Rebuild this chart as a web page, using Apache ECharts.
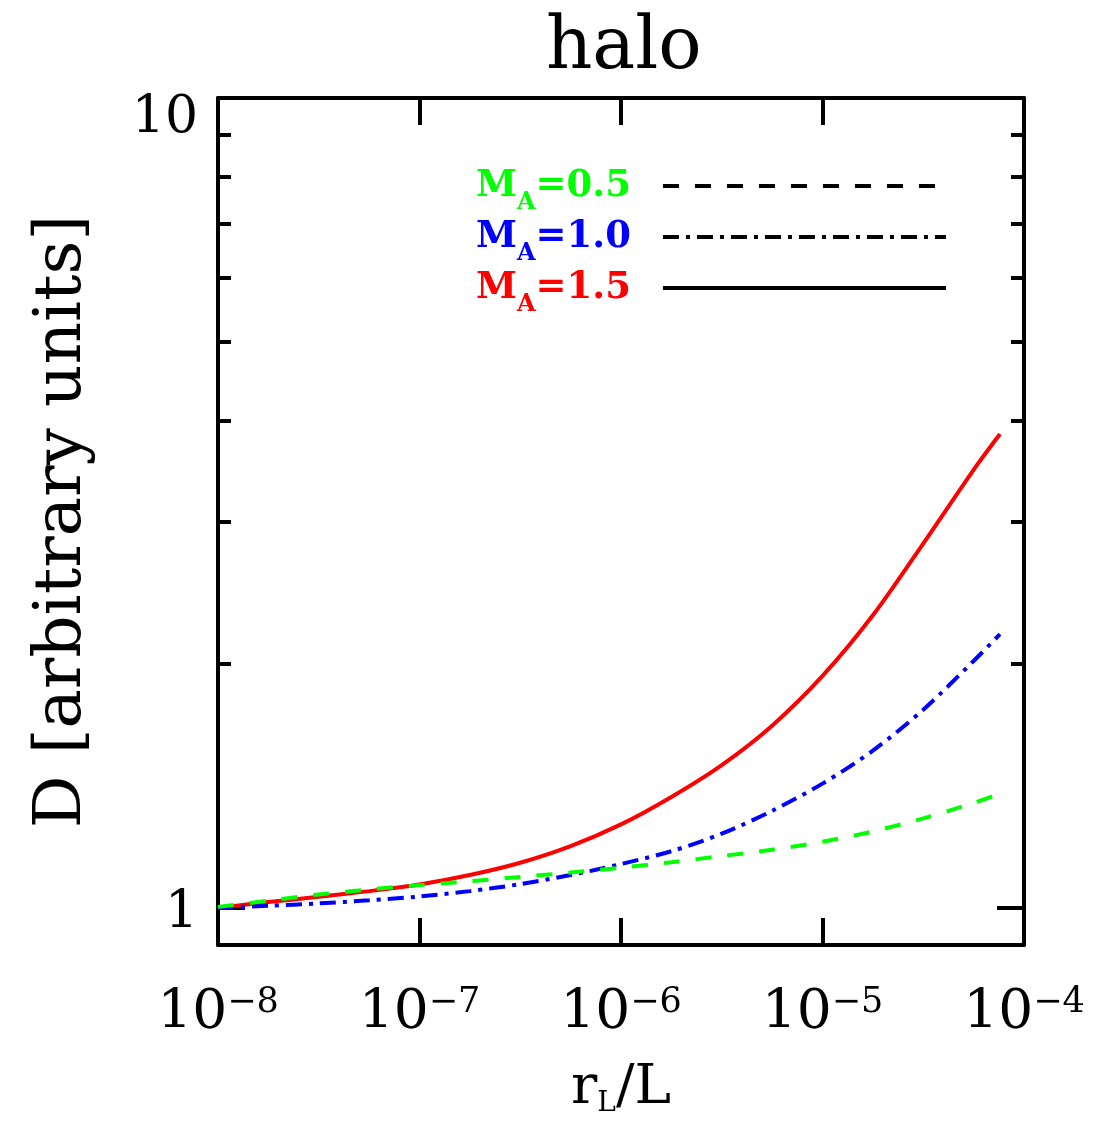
<!DOCTYPE html>
<html><head><meta charset="utf-8">
<script src="https://cdn.jsdelivr.net/npm/echarts@6/dist/echarts.min.js"></script>
<style>html,body{margin:0;padding:0;background:#fff}#c{width:1109px;height:1123px}</style>
</head><body><div id="c"></div>
<script>
// ---- data ----
const rL = [1e-8, 1.778e-8, 3.162e-8, 5.623e-8, 1e-7, 1.778e-7, 3.162e-7, 5.623e-7, 1e-6, 1.778e-6, 3.162e-6, 5.623e-6, 1e-5, 1.778e-5, 3.162e-5, 5.623e-5, 7.6e-5];
const dMA05 = [1.003, 1.021, 1.039, 1.054, 1.067, 1.079, 1.092, 1.106, 1.121, 1.139, 1.159, 1.180, 1.207, 1.243, 1.290, 1.348, 1.385];
const dMA10 = [1.000, 1.006, 1.013, 1.022, 1.033, 1.049, 1.070, 1.098, 1.133, 1.175, 1.235, 1.318, 1.424, 1.564, 1.757, 2.018, 2.178];
const dMA15 = [1.000, 1.017, 1.032, 1.049, 1.069, 1.098, 1.137, 1.192, 1.268, 1.371, 1.501, 1.679, 1.934, 2.298, 2.818, 3.475, 3.847];
const seriesNames = ['MA=0.5', 'MA=1.0', 'MA=1.5'];
const seriesColors = ['#00ff00', '#0000ff', '#ff0000'];
const yMajorTicks = [1, 10];
const yMinorTicks = [2, 3, 4, 5, 6, 7, 8, 9];
const titleText = 'halo';
const yName = 'D [arbitrary units]';

const SERIF = 'DejaVu Serif';
const dashes = [[16, 16], [16, 7, 4, 7], 'solid'];
const allData = [dMA05, dMA10, dMA15];

const chart = echarts.init(document.getElementById('c'), null, {renderer: 'canvas'});

const axisLineStyle = {color: '#000', width: 4};
const xAxisBase = {
  type: 'log', logBase: 10, min: 1e-8, max: 1e-4,
  splitLine: {show: false}, minorTick: {show: false},
  axisLine: {show: true, lineStyle: axisLineStyle, onZero: false},
  axisTick: {show: true, inside: true, length: 27, lineStyle: {color: '#000', width: 4}}
};
const yAxisBase = {
  type: 'log', logBase: 10, min: 0.9, max: 10,
  splitLine: {show: false}, minorTick: {show: false}
};

const option = {
  animation: false,
  backgroundColor: '#fff',
  title: {
    text: titleText, left: 541, top: 8,
    textStyle: {fontFamily: SERIF, fontSize: 72, fontWeight: 'normal', color: '#000'}
  },
  grid: {left: 218, right: 85, top: 98, bottom: 175, containLabel: false},
  legend: {
    orient: 'vertical', left: 471, top: 152, itemGap: -7,
    itemWidth: 283, itemHeight: 12, align: 'right',
    selectedMode: false,
    data: seriesNames.map((n, i) => ({
      name: n,
      textStyle: {color: seriesColors[i]},
      itemStyle: {opacity: 0},
      lineStyle: {color: '#000', width: 4, type: dashes[i], opacity: 1}
    })),
    formatter: name => '{m|M}{s|A}{m|=' + name.split('=')[1] + '}{g|}',
    textStyle: {
      fontFamily: SERIF, fontWeight: 'bold', fontSize: 37,
      rich: {
        m: {fontFamily: SERIF, fontWeight: 'bold', fontSize: 37, lineHeight: 44},
        s: {fontFamily: SERIF, fontWeight: 'bold', fontSize: 24, lineHeight: 22, padding: [34, 0, 0, 0]},
        g: {width: 27}
      }
    }
  },
  xAxis: [
    Object.assign({}, xAxisBase, {
      position: 'bottom',
      name: '{r|r}{s|L}{r|/L}', nameLocation: 'middle', nameGap: 114,
      nameTextStyle: {
        rich: {
          r: {fontFamily: SERIF, fontSize: 55, lineHeight: 60, color: '#000'},
          s: {fontFamily: SERIF, fontSize: 28, lineHeight: 28, padding: [30, 0, 0, 0], color: '#000'}
        }
      },
      axisLabel: {
        show: true, margin: 40, showMinLabel: true, showMaxLabel: true,
        formatter: v => '{b|10}{e|\u2212' + Math.abs(Math.round(Math.log10(v))) + '}',
        rich: {
          b: {fontFamily: SERIF, fontSize: 55, lineHeight: 58, color: '#000'},
          e: {fontFamily: SERIF, fontSize: 35, lineHeight: 34, verticalAlign: 'top', color: '#000'}
        }
      }
    }),
    Object.assign({}, xAxisBase, {position: 'top', axisLabel: {show: false}})
  ],
  yAxis: [
    Object.assign({}, yAxisBase, {
      position: 'left',
      name: yName, nameLocation: 'middle', nameGap: 122,
      nameTextStyle: {fontFamily: SERIF, fontSize: 66, color: '#000'},
      axisLine: {show: true, lineStyle: axisLineStyle},
      axisTick: {show: true, inside: true, length: 27, customValues: yMajorTicks, lineStyle: {color: '#000', width: 4}},
      axisLabel: {
        show: true, margin: 20, customValues: yMajorTicks,
        formatter: v => (Math.abs(v - 10) < 1e-6 ? '{t|10}' : '{o|1}'),
        rich: {
          t: {fontFamily: SERIF, fontSize: 52, padding: [40, 0, 0, 0], color: '#000'},
          o: {fontFamily: SERIF, fontSize: 52, padding: [12, 0, 0, 0], color: '#000'}
        }
      }
    }),
    Object.assign({}, yAxisBase, {
      position: 'left',
      axisLine: {show: false},
      axisTick: {show: true, inside: true, length: 13, customValues: yMinorTicks, lineStyle: {color: '#000', width: 4}},
      axisLabel: {show: false}
    }),
    Object.assign({}, yAxisBase, {
      position: 'right',
      axisLine: {show: true, lineStyle: axisLineStyle},
      axisTick: {show: true, inside: true, length: 27, customValues: yMajorTicks, lineStyle: {color: '#000', width: 4}},
      axisLabel: {show: false}
    }),
    Object.assign({}, yAxisBase, {
      position: 'right',
      axisLine: {show: false},
      axisTick: {show: true, inside: true, length: 13, customValues: yMinorTicks, lineStyle: {color: '#000', width: 4}},
      axisLabel: {show: false}
    })
  ],
  series: seriesNames.map((n, i) => ({
    name: n, type: 'line', xAxisIndex: 0, yAxisIndex: 0,
    data: rL.map((x, k) => [x, allData[i][k]]),
    symbol: 'none', smooth: 0.3,
    lineStyle: {color: seriesColors[i], width: 4, type: dashes[i]},
    itemStyle: {color: seriesColors[i]},
    z: 3 - i
  }))
};
chart.setOption(option);
</script></body></html>
